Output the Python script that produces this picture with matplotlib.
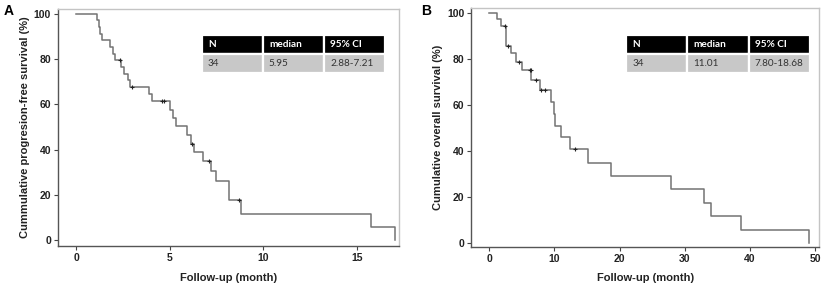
import matplotlib
matplotlib.use("Agg")
import matplotlib.pyplot as plt

plt.rcParams["font.family"] = ["Liberation Sans", "DejaVu Sans"]

# Panel A: progression-free survival (step times, survival after step)
pfs_t = [0, 1.09, 1.21, 1.27, 1.36, 1.80, 1.95, 2.07, 2.39, 2.55, 2.79, 2.88,
         3.89, 4.04, 5.02, 5.16, 5.32, 5.91, 6.13, 6.27, 6.80, 7.20, 7.48,
         8.16, 8.80, 15.79, 17.04]
pfs_s = [100, 97.1, 94.1, 91.2, 88.2, 85.3, 82.4, 79.4, 76.5, 73.5, 70.6, 67.6,
         64.5, 61.3, 57.5, 54.0, 50.2, 46.4, 42.6, 38.8, 34.7, 30.4, 26.2,
         17.5, 11.7, 5.8, 0]
pfs_cens_t = [2.34, 2.96, 4.57, 4.70, 6.21, 7.09, 8.71]
pfs_cens_s = [79.4, 67.6, 61.3, 61.3, 42.6, 34.7, 17.5]

# Panel B: overall survival
os_t = [0, 1.18, 1.84, 2.55, 3.30, 4.10, 5.00, 6.45, 7.80, 9.50, 9.87, 10.10,
        11.00, 12.40, 15.20, 18.66, 27.90, 32.90, 34.00, 38.65, 49.00]
os_s = [100, 97.1, 94.1, 85.3, 82.4, 78.7, 75.0, 70.6, 66.4, 61.4, 56.1, 50.9,
        45.8, 40.7, 34.9, 29.1, 23.3, 17.5, 11.6, 5.8, 0]
os_cens_t = [2.35, 2.86, 4.60, 6.25, 6.40, 7.20, 8.00, 8.60, 13.10]
os_cens_s = [94.1, 85.3, 78.7, 75.0, 75.0, 70.6, 66.4, 66.4, 40.7]

table_cols = ["N", "median", "95% CI"]
pfs_row = ["34", "5.95", "2.88-7.21"]
os_row = ["34", "11.01", "7.80-18.68"]


def draw_panel(ax, t, s, ct, cs, xlim, ylim, xticks, ylabel, row, tbbox):
    ax.step(t, s, where="post", color="#737373", lw=1.1)
    ax.plot(ct, cs, "+", color="#222222", ms=3, mew=0.8)
    ax.set_xlim(*xlim)
    ax.set_ylim(*ylim)
    ax.set_xticks(xticks)
    ax.set_yticks([0, 20, 40, 60, 80, 100])
    ax.tick_params(direction="out", length=3, width=0.8, color="#444444",
                   labelsize=7.5, pad=2)
    for lab in ax.get_xticklabels() + ax.get_yticklabels():
        lab.set_fontweight("bold")
        lab.set_color("#222222")
    ax.spines["left"].set_color("#555555")
    ax.spines["bottom"].set_color("#555555")
    ax.spines["top"].set_color("#c4c4c4")
    ax.spines["right"].set_color("#c4c4c4")
    for sp in ax.spines.values():
        sp.set_linewidth(1.0)
    ax.set_xlabel("Follow-up (month)", fontsize=8, fontweight="bold",
                  color="#222222", labelpad=7)
    ax.set_ylabel(ylabel, fontsize=8, fontweight="bold", color="#222222",
                  labelpad=3)

    tab = ax.table(cellText=[table_cols, row], cellLoc="left", bbox=tbbox)
    tab.auto_set_font_size(False)
    for (r, c), cell in tab.get_celld().items():
        cell.set_edgecolor("white")
        cell.set_linewidth(1.6)
        txt = cell.get_text()
        txt.set_fontfamily(["Lato", "DejaVu Sans"])
        txt.set_fontsize(7.2)
        cell.PAD = 0.1
        if r == 0:
            cell.set_facecolor("black")
            txt.set_color("white")
            txt.set_fontweight("bold")
        else:
            cell.set_facecolor("#c8c8c8")
            txt.set_color("#333333")


fig = plt.figure(figsize=(8.25, 2.86), dpi=100)
axA = fig.add_axes([0.0703, 0.1399, 0.4133, 0.8286])
axB = fig.add_axes([0.5713, 0.1374, 0.4214, 0.8346])

draw_panel(axA, pfs_t, pfs_s, pfs_cens_t, pfs_cens_s, (-0.98, 17.26),
           (-2.65, 102.1), [0, 5, 10, 15],
           "Cummulative progresion-free survival (%)", pfs_row,
           [0.4214, 0.7287, 0.5376, 0.1616])
draw_panel(axB, os_t, os_s, os_cens_t, os_cens_s, (-2.76, 50.6),
           (-1.6, 102.0), [0, 10, 20, 30, 40, 50],
           "Cumulative overall survival (%)", os_row,
           [0.4458, 0.726, 0.5275, 0.161])

fig.text(0.004, 0.985, "A", fontsize=10, fontweight="bold", va="top")
fig.text(0.511, 0.985, "B", fontsize=10, fontweight="bold", va="top")

fig.savefig("out.png", dpi=100)
